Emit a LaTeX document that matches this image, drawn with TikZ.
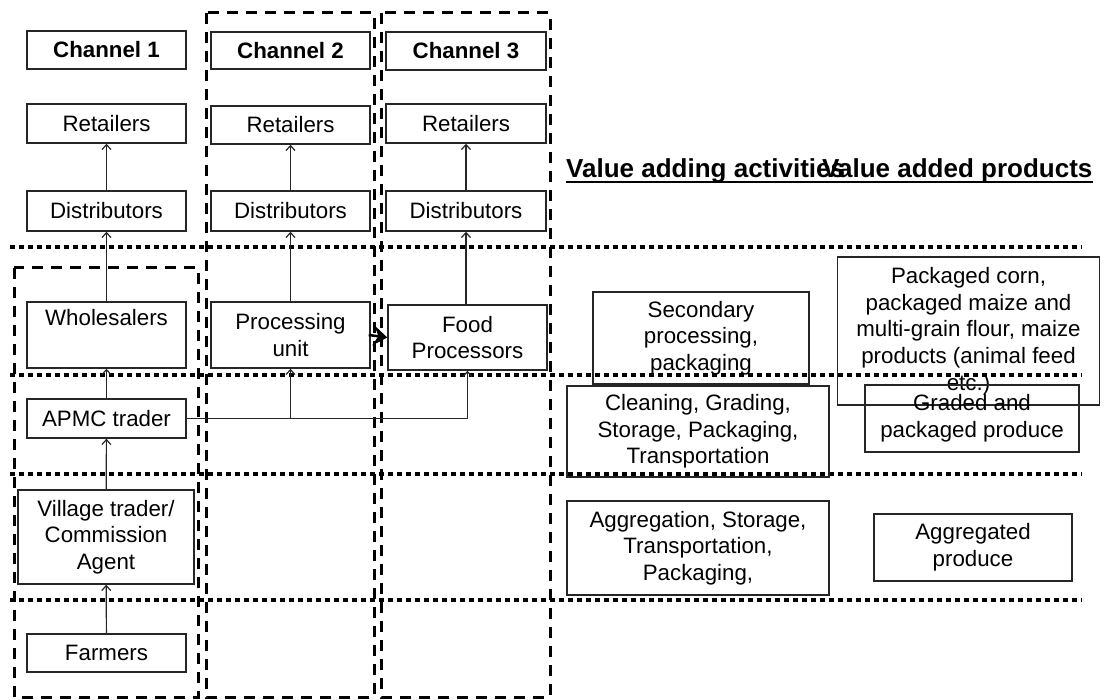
\documentclass[tikz,border=0pt]{standalone}
\usepackage{fontspec}
\setmainfont{Liberation Sans}
\usetikzlibrary{arrows.meta}
\begin{document}
\begin{tikzpicture}[x=1pt,y=-1pt,
  txt/.style={font=\fontsize{22.3}{26.7}\selectfont, align=center, inner sep=0pt},
  box/.style={txt, draw=black!85, line width=1.4pt},
  wh/.style 2 args={minimum width=#1pt, minimum height=#2pt},
  head/.style={font=\fontsize{26}{30}\selectfont\bfseries, inner sep=0pt, anchor=base west},
  chan/.style={box, font=\fontsize{22.3}{26.7}\selectfont\bfseries},
  group/.style={draw=black, line width=3pt, dash pattern=on 11pt off 8pt},
  level/.style={draw=black, line width=4pt, dash pattern=on 4.5pt off 4.5pt},
  flow/.style={draw=black!85, line width=1.2pt, -{Straight Barb[length=5pt,width=9pt]}},
  handover/.style={draw=black, line width=2.5pt, -{Stealth[length=14pt,width=20pt,inset=5pt,line width=1pt]}}
]
\useasboundingbox (0,0) rectangle (1105,700);

% channel groupings
\draw[group] (14,268) rectangle (198,697);
\draw[group] (206,13) rectangle (374,697);
\draw[group] (381,13) rectangle (550,697);

% level separators
\foreach \yy in {247,375,474,600}
  \draw[level] (10,\yy) -- (1082,\yy);

% channel headings
\node[chan, wh={159}{38}] (ch1) at (106.5,50) {Channel 1};
\node[chan, wh={159}{37}] (ch2) at (290.5,50.5) {Channel 2};
\node[chan, wh={160}{38}] (ch3) at (466,51) {Channel 3};

% channel 1
\node[box, wh={159}{39}] (ret1) at (106.5,123.5) {Retailers};
\node[box, wh={159}{40}] (dis1) at (106.5,211) {Distributors};
\node[box, wh={159}{66}] (whole) at (106.5,335) {Wholesalers\\\strut};
\node[box, wh={159}{39}] (apmc) at (106.5,418.5) {APMC trader};
\node[box, wh={176}{94}] (village) at (106,537) {Village trader/\\Commission\\Agent};
\node[box, wh={159}{38}] (farm) at (106.5,653) {Farmers};

% channel 2
\node[box, wh={159}{38}] (ret2) at (290.5,125) {Retailers};
\node[box, wh={159}{40}] (dis2) at (290.5,211) {Distributors};
\node[box, wh={159}{66}] (proc) at (290.5,335) {Processing\\unit};

% channel 3
\node[box, wh={160}{39}] (ret3) at (466,123.5) {Retailers};
\node[box, wh={160}{40}] (dis3) at (466,211) {Distributors};
\node[box, wh={159}{65}] (food) at (467.5,337.5) {Food\\Processors};

% column headings
\node[head] (acts) at (566,178) {Value adding activities};
\node[head] (prods) at (822,178) {Value added products};
\draw[line width=2.4pt] ([yshift=-4pt]acts.base west) -- ([yshift=-4pt]acts.base east);
\draw[line width=2.4pt] ([yshift=-4pt]prods.base west) -- ([yshift=-4pt]prods.base east);

% activities and products per level
\node[box, wh={216}{92}] (sec) at (701,338) {Secondary\\processing,\\packaging};
\node[box, wh={262}{148}] (pack) at (968.5,331) {Packaged corn,\\packaged maize and\\multi-grain flour, maize\\products (animal feed\\etc.)};
\node[box, wh={262}{91}] (clean) at (698,431.5) {Cleaning, Grading,\\Storage, Packaging,\\Transportation};
\node[box, wh={214}{67}] (graded) at (972,418.5) {Graded and\\packaged produce};
\node[box, wh={262}{94}] (agg) at (698,548) {Aggregation, Storage,\\Transportation,\\Packaging,};
\node[box, wh={198}{67}] (aggd) at (973,547.5) {Aggregated\\produce};

% flows
\draw[flow] (farm) -- (village);
\draw[flow] (village) -- (apmc);
\draw[flow] (apmc) -- (whole);
\draw[flow] (whole) -- (dis1);
\draw[flow] (dis1) -- (ret1);
\draw[flow] (proc) -- (dis2);
\draw[flow] (dis2) -- (ret2);
\draw[flow] (dis3.south |- food.north) -- (dis3.south);
\draw[flow] (dis3) -- (ret3);
\draw[flow] (apmc.east) -| (food.south);
\draw[flow] (apmc.east -| proc.south) -- (proc.south);
\draw[handover] ([xshift=-2pt]proc.east) -- (food.west);
\end{tikzpicture}
\end{document}
